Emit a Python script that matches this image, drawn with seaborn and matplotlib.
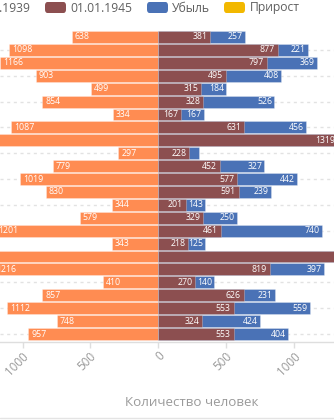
import matplotlib
matplotlib.use("Agg")
import matplotlib.pyplot as plt
from matplotlib.patches import FancyBboxPatch
from matplotlib.lines import Line2D
from matplotlib.ticker import FuncFormatter
import matplotlib.transforms as mtransforms
import seaborn as sns
import pandas as pd

# Population by settlement, 1939 vs 1945 (persons)
rows = [str(i) for i in range(1, 25)]
pop_1939 = [638, 1098, 1166, 903, 499, 854, 334, 1087, 1702, 297, 779, 1019,
            830, 344, 579, 1201, 343, 2150, 1216, 410, 857, 1112, 748, 957]
pop_1945 = [381, 877, 797, 495, 315, 328, 167, 631, 1319, 228, 452, 577,
            591, 201, 329, 461, 218, 1520, 819, 270, 626, 553, 324, 553]
loss = [257, 221, 369, 408, 184, 526, 167, 456, 383, 69, 327, 442,
        239, 143, 250, 740, 125, 630, 397, 140, 231, 559, 424, 404]
gain = [0] * 24

legend_labels = ["01.01.1939", "01.01.1945", "Убыль", "Прирост"]
tick_values = [-1000, -500, 0, 500, 1000]
x_title = "Количество человек"

C_1939 = "#FF8C52"
C_1945 = "#8C4F50"
C_LOSS = "#4A72B6"
C_GAIN = "#F2B800"
TXT = "#5f5f5f"
GREY = "#9a9a9a"

sns.set_theme(style="white")
plt.rcParams["font.family"] = ["Open Sans", "DejaVu Sans"]

df = pd.DataFrame({
    "row": rows,
    "left": [-v for v in pop_1939],
    "p45": pop_1945,
    "total": [a + b + g for a, b, g in zip(pop_1945, loss, gain)],
})

fig = plt.figure(figsize=(3.34, 4.20), dpi=100)
ax = fig.add_axes([0.0, 1 - 341.75 / 420, 1.0, 312.5 / 420])

edge = dict(edgecolor=(1, 1, 1, 0.3), linewidth=0.6)
sns.barplot(data=df, x="left", y="row", orient="h", color=C_1939,
            saturation=1, width=0.92, ax=ax, zorder=3, **edge)
sns.barplot(data=df, x="total", y="row", orient="h", color=C_LOSS,
            saturation=1, width=0.92, ax=ax, zorder=3, **edge)
sns.barplot(data=df, x="p45", y="row", orient="h", color=C_1945,
            saturation=1, width=0.92, ax=ax, zorder=4, **edge)

ax.set_xlim(-1166, 1292)
ax.set_ylim(23.6, -0.6)

# value labels
lab = dict(color="white", fontsize=6.3, va="center", zorder=6,
           textcoords="offset points", annotation_clip=False)
for i in range(len(rows)):
    ax.annotate(str(pop_1939[i]), (-pop_1939[i], i), xytext=(2.2, 0),
                ha="left", **lab)
    ax.annotate(str(pop_1945[i]), (pop_1945[i], i), xytext=(-2.0, 0),
                ha="right", **lab)
    if loss[i] * 0.1359 > 15:
        ax.annotate(str(loss[i]), (pop_1945[i] + loss[i], i), xytext=(-1.6, 0),
                    ha="right", **lab)

# grid on every other row
ax.set_yticks(range(1, 24, 2))
ax.set_yticklabels([])
ax.tick_params(axis="y", length=0)
ax.yaxis.grid(True, color="#e2e2e2", linestyle=(0, (2.2, 2.6)), linewidth=1.0)
ax.xaxis.grid(False)
ax.set_axisbelow(True)
ax.set_ylabel("")

for s in ["top", "left", "right"]:
    ax.spines[s].set_visible(False)
ax.spines["bottom"].set_color("#dedede")
ax.spines["bottom"].set_linewidth(1.0)

ax.set_xticks(tick_values)
ax.xaxis.set_major_formatter(FuncFormatter(lambda v, p: f"{abs(int(v))}"))
ax.tick_params(axis="x", length=4, width=1, color="#dedede", colors=GREY,
               labelsize=8.4, pad=5, bottom=True)
off = mtransforms.ScaledTranslation(4 / 100, 0, fig.dpi_scale_trans)
for t in ax.get_xticklabels():
    t.set_rotation(45)
    t.set_ha("right")
    t.set_va("center")
    t.set_rotation_mode("anchor")
    t.set_color(GREY)
    t.set_transform(t.get_transform() + off)

ax.set_xlabel(x_title, color=GREY, fontsize=9.6, va="center")
ax.xaxis.set_label_coords(192 / 334, (341.75 - 402) / 312.5)

# legend row
W, H = 334.0, 420.0
sw = [(-57, C_1939), (45, C_1945), (147, C_LOSS), (224, C_GAIN)]
tx = [-32, 70, 172, 250]
for (x0, c), x1, lbl in zip(sw, tx, legend_labels):
    fig.add_artist(FancyBboxPatch((x0 / W, 1 - 13 / H), 21 / W, 11 / H,
                                  boxstyle="round,pad=0,rounding_size=0.008",
                                  transform=fig.transFigure, facecolor=c,
                                  edgecolor="none"))
    fig.text(x1 / W, 1 - 8 / H, lbl, color=TXT, fontsize=8.7,
             ha="left", va="center")

fig.add_artist(Line2D([0, 1], [1 - 417.5 / H] * 2, color="#e4e4e4",
                      linewidth=1.0, transform=fig.transFigure))

fig.savefig("out.png", dpi=100, facecolor="white")
